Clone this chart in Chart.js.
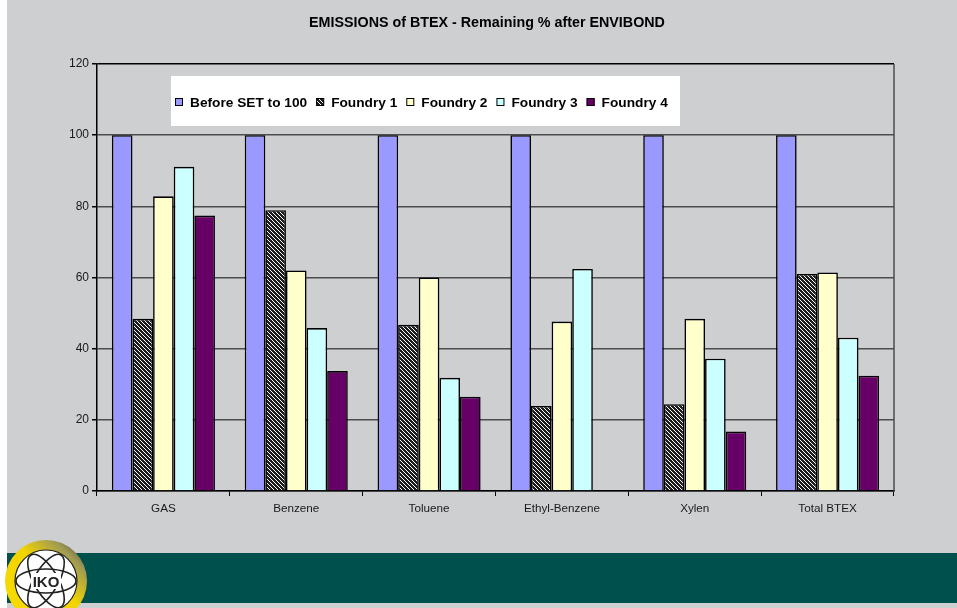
<!DOCTYPE html>
<html>
<head>
<meta charset="utf-8">
<title>EMISSIONS of BTEX</title>
<script src="https://cdn.jsdelivr.net/npm/chart.js@4.4.1/dist/chart.umd.min.js"></script>
<style>
  html, body { margin: 0; padding: 0; }
  body { width: 957px; height: 608px; background: #cecfd1; position: relative; overflow: hidden; }
  #strip { position: absolute; left: 0; top: 0; width: 7px; height: 608px; background: #fff; }
  #band { position: absolute; left: 7px; top: 553px; width: 950px; height: 50px; background: #00504e; }
  #logo { position: absolute; left: 4px; top: 539px; }
  #chart { position: absolute; left: 0; top: 0; }
</style>
</head>
<body>
<div id="strip"></div>
<div id="band"></div>
<canvas id="chart" width="957" height="608"></canvas>
<svg id="logo" width="86" height="86" viewBox="0 0 86 86">
  <defs>
    <linearGradient id="ring" x1="0" y1="1" x2="1" y2="0">
      <stop offset="0" stop-color="#f7dc00"/>
      <stop offset="0.55" stop-color="#f2d400"/>
      <stop offset="0.8" stop-color="#a09a55"/>
      <stop offset="1" stop-color="#3a3a2a"/>
    </linearGradient>
  </defs>
  <circle cx="42" cy="42" r="41" fill="url(#ring)"/>
  <circle cx="42" cy="42" r="31" fill="#fff" stroke="#222" stroke-width="1.2"/>
  <g fill="none" stroke="#222" stroke-width="1.6">
    <ellipse cx="42" cy="42" rx="30" ry="12" transform="rotate(60 42 42)"/>
    <ellipse cx="42" cy="42" rx="30" ry="12" transform="rotate(-60 42 42)"/>
    <ellipse cx="42" cy="42" rx="30" ry="12"/>
  </g>
  <rect x="27" y="34" width="30" height="16" rx="3" fill="#fff"/>
  <text x="42" y="48" text-anchor="middle" font-family="Arial, 'Liberation Sans'" font-weight="bold" font-size="15" fill="#222">IKO</text>
</svg>
<script>
// categories and series (values in %)
const categories = ['GAS', 'Benzene', 'Toluene', 'Ethyl-Benzene', 'Xylen', 'Total BTEX'];
const beforeSet = [100, 100, 100, 100, 100, 100];
const foundry1 = [48.4, 78.9, 46.7, 23.9, 24.4, 61.0];
const foundry2 = [82.8, 62.0, 60.0, 47.6, 48.4, 61.4];
const foundry3 = [91.1, 45.8, 31.8, 62.4, 37.2, 43.1];
const foundry4 = [77.4, 33.7, 26.5, 0, 16.7, 32.4];
const seriesNames = ['Before SET to 100', 'Foundry 1', 'Foundry 2', 'Foundry 3', 'Foundry 4'];
const yTicks = [0, 20, 40, 60, 80, 100, 120];

const FONT = 'Arial, "Liberation Sans", sans-serif';

// hatch pattern for Foundry 1
function makeHatch() {
  const c = document.createElement('canvas');
  c.width = 4; c.height = 4;
  const g = c.getContext('2d');
  g.fillStyle = '#1c1c1c';
  g.fillRect(0, 0, 4, 4);
  g.fillStyle = '#ffffff';
  for (let i = 0; i < 4; i++) g.fillRect(i, i, 1, 1);
  return g.createPattern(c, 'repeat');
}
const hatch = makeHatch();

const fills = ['#9999ff', hatch, '#ffffcc', '#ccffff', '#660066'];
const series = [beforeSet, foundry1, foundry2, foundry3, foundry4];

// title, legend box and right border of the plot
const decor = {
  id: 'decor',
  afterDatasetsDraw(chart) {
    const ctx = chart.ctx;
    const a = chart.chartArea;
    ctx.save();
    // right border
    ctx.strokeStyle = '#4d4d4d';
    ctx.lineWidth = 1.5;
    ctx.beginPath();
    ctx.moveTo(a.right, a.top);
    ctx.lineTo(a.right, a.bottom);
    ctx.stroke();

    // title
    ctx.fillStyle = '#000';
    ctx.font = 'bold 14.3px ' + FONT;
    ctx.textAlign = 'center';
    ctx.textBaseline = 'middle';
    ctx.fillText('EMISSIONS of BTEX - Remaining % after ENVIBOND', 487, 23);

    // legend box
    ctx.fillStyle = '#fff';
    ctx.fillRect(171, 76, 509, 50);
    ctx.font = 'bold 13.7px ' + FONT;
    ctx.textAlign = 'left';
    let x = 175;
    const y = 102;
    seriesNames.forEach((name, i) => {
      ctx.fillStyle = fills[i];
      ctx.fillRect(x, y - 4, 8, 8);
      ctx.strokeStyle = '#000';
      ctx.lineWidth = 1;
      ctx.strokeRect(x + 0.5, y - 3.5, 7, 7);
      ctx.fillStyle = '#000';
      ctx.fillText(name, x + 15, y + 1);
      x += 15 + ctx.measureText(name).width + 9;
    });
    ctx.restore();
  }
};

new Chart(document.getElementById('chart'), {
  type: 'bar',
  data: {
    labels: categories,
    datasets: series.map((d, i) => ({
      label: seriesNames[i],
      data: d,
      backgroundColor: fills[i],
      borderColor: '#000',
      borderWidth: 1.6,
      barPercentage: 1,
      categoryPercentage: 0.776
    }))
  },
  options: {
    responsive: false,
    animation: false,
    layout: { padding: { left: 0, right: 63, top: 64, bottom: 87 } },
    plugins: {
      legend: { display: false },
      title: { display: false },
      tooltip: { enabled: false }
    },
    scales: {
      x: {
        afterFit: s => { s.height = 30; },
        grid: { drawOnChartArea: false, drawTicks: true, tickLength: 5, color: '#000', offset: true },
        border: { display: true, color: '#000', width: 1.5 },
        ticks: { color: '#1a1a1a', font: { family: FONT, size: 11.7 }, padding: 6 }
      },
      y: {
        min: 0,
        max: 120,
        afterFit: s => { s.width = 97; },
        afterBuildTicks: s => { s.ticks = yTicks.map(v => ({ value: v })); },
        grid: {
          color: c => (c.tick && c.tick.value === 120 ? '#000' : '#4d4d4d'),
          lineWidth: 1.5,
          tickLength: 5,
          tickColor: '#000'
        },
        border: { display: true, color: '#000', width: 1.5 },
        ticks: { color: '#1a1a1a', font: { family: FONT, size: 12 }, padding: 3 }
      }
    }
  },
  plugins: [decor]
});
</script>
</body>
</html>
